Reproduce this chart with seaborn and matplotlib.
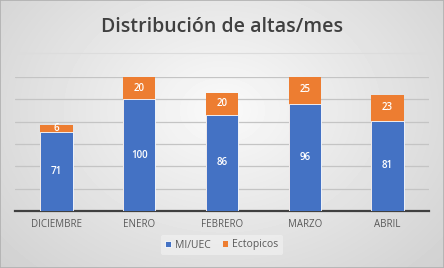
import pandas as pd
import numpy as np
import seaborn as sns
import matplotlib.pyplot as plt

meses = ['DICIEMBRE', 'ENERO', 'FEBRERO', 'MARZO', 'ABRIL']
mi_uec = [71, 100, 86, 96, 81]
ectopicos = [6, 20, 20, 25, 23]

df = pd.DataFrame({'mes': meses, 'MI/UEC': mi_uec, 'Ectopicos': ectopicos})
df['total'] = df['MI/UEC'] + df['Ectopicos']

azul = '#4472C4'
naranja = '#ED7D31'

sns.set_style('white')
plt.rcParams['font.family'] = ['Open Sans', 'DejaVu Sans']

fig = plt.figure(figsize=(4.44, 2.68), dpi=100)

# fondo gris con degradado (centro mas claro)
yy, xx = np.mgrid[0:268, 0:444]
r = np.sqrt(((xx - 222) / 260.0) ** 2 + ((yy - 110) / 200.0) ** 2)
fondo = np.clip(0.98 - 0.14 * r, 0.80, 0.98)
fig.figimage(fondo, cmap='gray', vmin=0, vmax=1, zorder=-10)

ax = fig.add_axes([15 / 444, 1 - 211 / 268, 414 / 444, 134 / 268])
ax.patch.set_alpha(0)

sns.barplot(data=df, x='mes', y='total', color=naranja, width=0.39,
            saturation=1, ax=ax, label='Ectopicos', zorder=3, linewidth=0)
sns.barplot(data=df, x='mes', y='MI/UEC', color=azul, width=0.39,
            saturation=1, ax=ax, label='MI/UEC', zorder=3,
            edgecolor='white', linewidth=0.6)
if ax.get_legend() is not None:
    ax.get_legend().remove()

ax.bar_label(ax.containers[1], labels=[str(v) for v in mi_uec],
             label_type='center', color='white', fontsize=7, fontweight='semibold')
for i, (m, e) in enumerate(zip(mi_uec, ectopicos)):
    ax.text(i, m + e / 2, str(e), ha='center', va='center',
            color='white', fontsize=7, fontweight='semibold', zorder=4)

ax.set_ylim(0, 120)
ax.set_yticks(np.arange(0, 121, 20))
ax.yaxis.grid(True, color='#c4c4c4', linewidth=0.9)
ax.set_axisbelow(True)
ax.set_yticklabels([])
ax.tick_params(axis='y', length=0)
ax.tick_params(axis='x', length=0, labelsize=7, colors='#595959', pad=6)
ax.set_xlabel('')
ax.set_ylabel('')
for s in ['top', 'left', 'right']:
    ax.spines[s].set_visible(False)
ax.spines['bottom'].set_color('#404040')
ax.spines['bottom'].set_linewidth(1.6)
ax.set_xlim(-0.5, 4.5)

h, l = ax.get_legend_handles_labels()
leg = fig.legend(h[::-1], l[::-1], loc='center', bbox_to_anchor=(222 / 444, 1 - 245 / 268),
                 ncol=2, fontsize=7.5, frameon=True, handlelength=0.5, handleheight=0.5,
                 handletextpad=0.4, columnspacing=1.2, borderpad=0.4)
leg.get_frame().set_facecolor('#f0f0f0')
leg.get_frame().set_edgecolor('none')
leg.get_frame().set_alpha(0.7)
for t in leg.get_texts():
    t.set_color('#595959')

fig.text(222 / 444, 1 - 27 / 268, 'Distribución de altas/mes', ha='center', va='center',
         fontsize=14, fontweight='semibold', color='#404040')
fig.add_artist(plt.Line2D([15 / 444, 429 / 444], [1 - 53 / 268, 1 - 53 / 268],
                          color='#dcdcdc', linewidth=0.8))
fig.add_artist(plt.Rectangle((0, 0), 1, 1, fill=False, edgecolor='#b0b0b0',
                             linewidth=1.2, transform=fig.transFigure))

fig.savefig('out.png', dpi=100)
